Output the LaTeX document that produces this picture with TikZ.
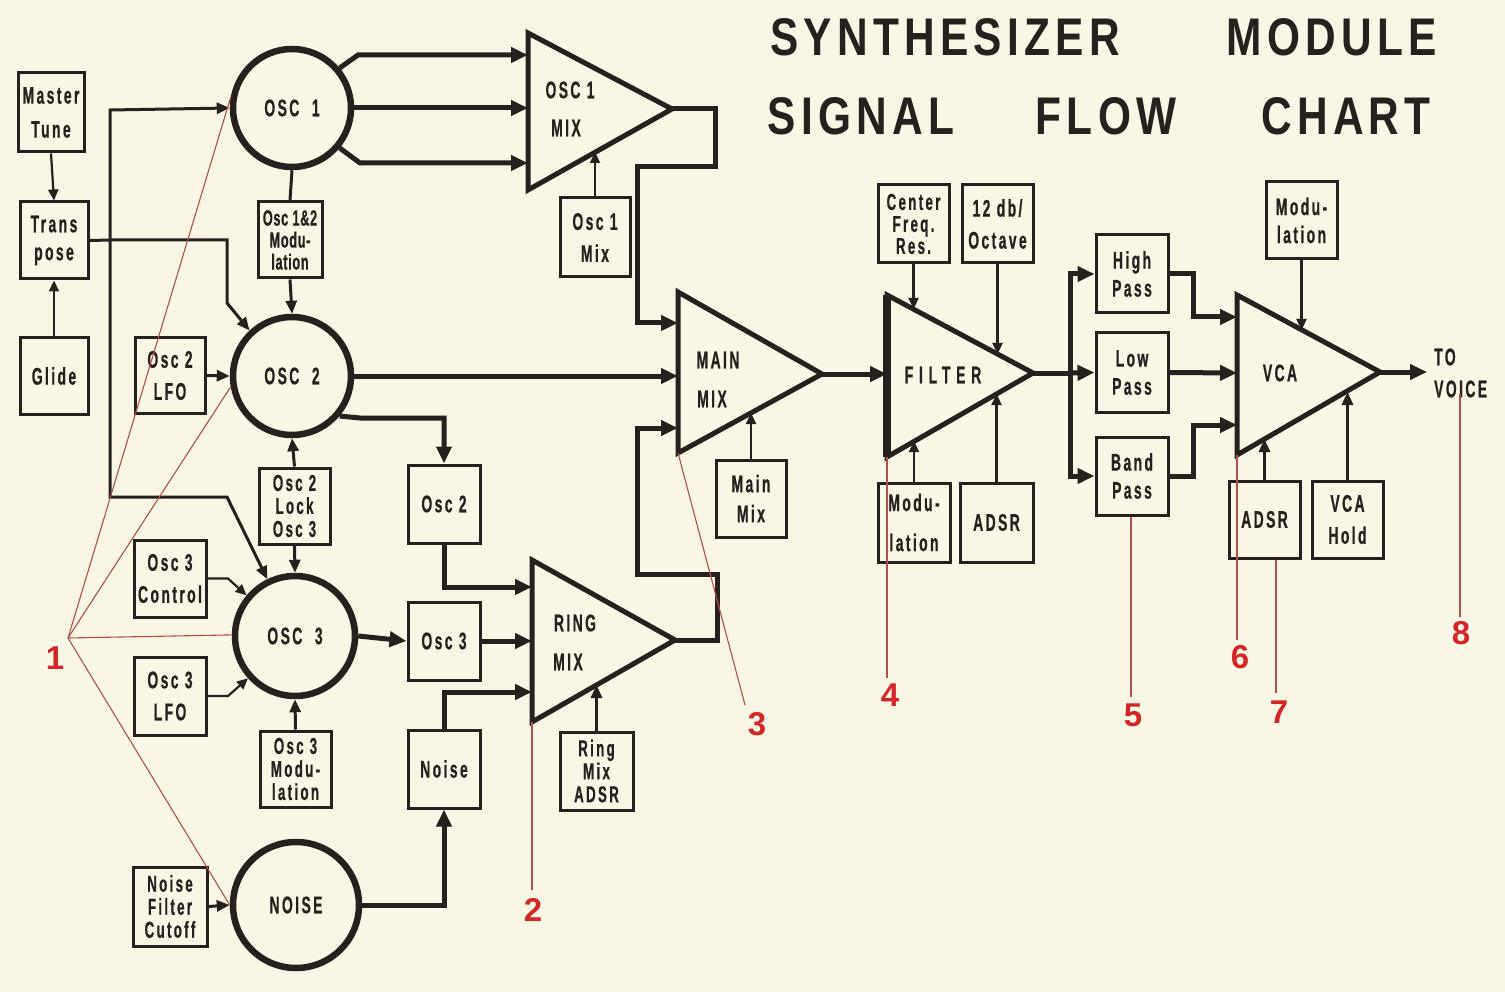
\documentclass[tikz,border=0pt]{standalone}
\usepackage{fontspec}
\usetikzlibrary{arrows.meta}
\newfontfamily\cfont{Liberation Sans Bold}[FakeStretch=0.58,LetterSpace=10,FakeBold=0.6]
\newfontfamily\cfontn{Liberation Sans Bold}[FakeStretch=0.58,LetterSpace=3,FakeBold=0.6]
\newfontfamily\cfontw{Liberation Sans Bold}[FakeStretch=0.58,LetterSpace=24,FakeBold=0.6]
\newfontfamily\tfont{Liberation Sans Bold}[FakeStretch=0.8,LetterSpace=10]
\newfontfamily\rfont{Liberation Sans Bold}
\definecolor{paper}{RGB}{250,246,229}
\definecolor{ink}{RGB}{38,33,30}
\definecolor{redtxt}{RGB}{212,38,38}
\definecolor{redline}{RGB}{175,80,75}
\newcommand\bxfont{\cfont\fontsize{24}{28}\selectfont}
\newcommand\bigfont{\cfont\fontsize{24}{30}\selectfont}
\begin{document}
\begin{tikzpicture}[x=1pt,y=-1pt,
  bx/.style 2 args={draw=ink, line width=3pt, minimum width=#1pt, minimum height=#2pt,
     inner sep=0pt, align=center, font=\bxfont, text=ink},
  circ/.style={circle, draw=ink, line width=6.5pt, minimum size=#1pt, inner sep=0pt,
     font=\bigfont, text=ink},
  tri/.style={draw=ink, line width=5pt, line join=miter},
  tlab/.style={font=\bigfont, text=ink, inner sep=0pt},
  thk/.style={draw=ink, line width=5pt, -{Triangle[length=17pt,width=15pt]}},
  thkl/.style={draw=ink, line width=5pt},
  med/.style={draw=ink, line width=3pt, -{Triangle[length=13pt,width=11pt]}},
  medl/.style={draw=ink, line width=3pt},
  thn/.style={draw=ink, line width=2.2pt, -{Triangle[length=11pt,width=10pt]}},
  titl/.style={font=\tfont\fontsize{53}{60}\selectfont, text=ink, inner sep=0pt},
  rnum/.style={font=\rfont\fontsize{33}{33}\selectfont, text=redtxt, inner sep=0pt},
  rln/.style={draw=redline, line width=1.1pt}
]
\fill[paper] (0,0) rectangle (1505,992);
\useasboundingbox (0,0) rectangle (1505,992);

% ---------- title ----------
\node[titl] (t1) at (945,37) {SYNTHESIZER};
\node[titl] (t2) at (1332,37) {MODULE};
\node[titl] (t3) at (861,116) {SIGNAL};
\node[titl] (t4) at (1106,116) {FLOW};
\node[titl] (t5) at (1346,116) {CHART};

% ---------- left control boxes ----------
\node[bx={66}{79}, font=\cfont\fontsize{24}{34}\selectfont] (mt) at (51,112.5) {Master\\Tune};
\node[bx={68}{77}] (tp) at (54,240.5) {Trans\\pose};
\node[bx={68}{76}] (gl) at (54,376) {Glide};
\node[bx={64}{76}, font=\cfontn\fontsize{22}{22}\selectfont] (m12) at (290,240) {Osc 1\&2\\Modu-\\lation};
\node[bx={70}{75}, font=\cfont\fontsize{24}{32}\selectfont] (l2) at (170,375.5) {Osc 2\\LFO};
\node[bx={71}{76}, font=\cfont\fontsize{23}{23}\selectfont] (lk) at (294.5,506) {Osc 2\\Lock\\Osc 3};
\node[bx={72}{77}, font=\cfont\fontsize{24}{32}\selectfont] (c3) at (170,578.5) {Osc 3\\Control};
\node[bx={72}{78}, font=\cfont\fontsize{24}{32}\selectfont] (l3) at (170,696) {Osc 3\\LFO};
\node[bx={71}{76}, font=\cfont\fontsize{23}{23}\selectfont] (m3) at (295.5,769) {Osc 3\\Modu-\\lation};
\node[bx={74}{79}, font=\cfont\fontsize{23}{23}\selectfont] (nf) at (170,906.5) {Noise\\Filter\\Cutoff};

% ---------- oscillators ----------
\node[circ=118] (o1) at (292,108) {OSC~~1};
\node[circ=118] (o2) at (292,376) {OSC~~2};
\node[circ=120] (o3) at (295,636) {OSC~~3};
\node[circ=126] (nz) at (296,905) {NOISE};

% ---------- middle boxes ----------
\node[bx={70}{79}, font=\cfont\fontsize{24}{32}\selectfont] (o1m) at (595,237.5) {Osc 1\\Mix};
\node[bx={72}{78}] (b2) at (444,504) {Osc 2};
\node[bx={72}{78}] (b3) at (444,641) {Osc 3};
\node[bx={72}{78}] (bn) at (444,769) {Noise};
\node[bx={73}{78}, font=\cfont\fontsize{23}{23}\selectfont] (rma) at (596.5,771) {Ring\\Mix\\ADSR};
\node[bx={70}{77}, font=\cfont\fontsize{24}{30}\selectfont] (mmb) at (751,498.5) {Main\\Mix};

% ---------- filter section boxes ----------
\node[bx={71}{78}, font=\cfont\fontsize{23}{22}\selectfont] (cfr) at (913.5,224) {Center\\Freq.\\Res.};
\node[bx={71}{78}, font=\cfont\fontsize{24}{32}\selectfont] (db) at (997.5,224) {12 db/\\Octave};
\node[bx={72}{79}, font=\cfont\fontsize{24}{40}\selectfont] (fm) at (914,522.5) {Modu-\\lation};
\node[bx={73}{79}] (fa) at (996.5,522.5) {ADSR};
\node[bx={72}{78}] (hp) at (1132,274) {High\\Pass};
\node[bx={72}{79}] (lp) at (1132,372.5) {Low\\Pass};
\node[bx={72}{78}] (bp) at (1132,476) {Band\\Pass};
\node[bx={71}{77}] (vm) at (1301.5,220.5) {Modu-\\lation};
\node[bx={71}{77}] (va) at (1264.5,519.5) {ADSR};
\node[bx={71}{77}, font=\cfont\fontsize{24}{32}\selectfont] (vh) at (1347.5,519.5) {VCA\\Hold};

% ---------- triangles ----------
\coordinate (T1a) at (528,33);  \coordinate (T1b) at (528,190);  \coordinate (T1c) at (672,109);
\coordinate (TMa) at (678,292); \coordinate (TMb) at (678,453);  \coordinate (TMc) at (822,374);
\coordinate (TRa) at (532,560); \coordinate (TRb) at (532,722);  \coordinate (TRc) at (675,640);
\coordinate (TFa) at (887,295); \coordinate (TFb) at (887,457);  \coordinate (TFc) at (1033,373);
\coordinate (TVa) at (1237,295);\coordinate (TVb) at (1237,455); \coordinate (TVc) at (1380,372);
\draw[tri] (T1a) -- (T1b) -- (T1c) -- cycle;
\draw[tri] (TMa) -- (TMb) -- (TMc) -- cycle;
\draw[tri] (TRa) -- (TRb) -- (TRc) -- cycle;
\draw[tri] (TFa) -- (TFb) -- (TFc) -- cycle;
\draw[draw=ink, line width=8pt] (TFa) -- (TFb);
\draw[tri] (TVa) -- (TVb) -- (TVc) -- cycle;

\node[tlab] (l1a) at (570,90) {OSC~1};
\node[tlab] (l1b) at (566,128) {MIX};
\node[tlab] (lma) at (718,360) {MAIN};
\node[tlab] (lmb) at (712,399) {MIX};
\node[tlab] (lra) at (575,623) {RING};
\node[tlab] (lrb) at (568,662) {MIX};
\node[tlab, font=\cfontw\fontsize{24}{30}\selectfont] (lf) at (943,375) {FILTER};
\node[tlab] (lv) at (1280,373) {VCA};
\node[tlab, align=left, anchor=west, font=\cfont\fontsize{24}{32}\selectfont] (voice) at (1434,373) {TO\\VOICE};

% ---------- control connections (left) ----------
\coordinate (j) at (110,240);
\draw[thn] (mt.south) -- (tp.north);
\draw[thn] (gl.north) -- (tp.south);
\draw[medl] (tp.east) -- (j);
\draw[med] (j) -- (227,240) -- (227,303) -- (o2.133);
\draw[med] (j) -- (110,110) -- (o1.west);
\draw[med] (j) -- (110,497) -- (227,497) -- (o3.116);
\draw[medl] (o1.south) -- (m12.north);
\draw[med] (m12.south) -- (o2.north);
\draw[med] (l2.east) -- (o2.west);
\draw[med] (lk.north) -- (o2.south);
\draw[med] (lk.south) -- (o3.north);
\draw[thn] (c3.east) -- (228,578.5) -- (o3.140);
\draw[thn] (l3.east) -- (228,696) -- (o3.222);
\draw[med] (m3.north) -- (o3.south);
\draw[med] (nf.east) -- (nz.west);

% ---------- signal connections ----------
\coordinate (i1a) at (528,55);  \coordinate (i1b) at (528,108); \coordinate (i1c) at (528,163);
\draw[thk] (o1.40) -- (358,55) -- (i1a);
\draw[thk] (o1.east) -- (i1b);
\draw[thk] (o1.-40) -- (360,163) -- (i1c);

\coordinate (ima) at (678,323); \coordinate (imb) at (678,376); \coordinate (imc) at (678,428);
\draw[thk] (T1c) -- (715,109) -- (715,167) -- (637,167) -- (637,323) -- (ima);
\draw[thk] (o2.east) -- (imb);
\draw[thk] (o2.-40) -- (360,418) -- (444,418) -- (b2.north);

\coordinate (ira) at (532,587); \coordinate (irb) at (532,641); \coordinate (irc) at (532,692);
\draw[thk] (b2.south) -- (444,587) -- (ira);
\draw[thk] (o3.east) -- (b3.west);
\draw[thk] (b3.east) -- (irb);
\draw[thk] (bn.north) -- (444,692) -- (irc);
\draw[thk] (nz.east) -- (444,905) -- (bn.south);
\draw[thk] (TRc) -- (717,640) -- (717,574) -- (637,574) -- (637,428) -- (imc);

\coordinate (ifl) at (887,374);
\draw[thk] (TMc) -- (ifl);
\coordinate (bus) at (1070,373);
\draw[thkl] (TFc) -- (bus);
\draw[thk] (bus) -- (lp.west);
\draw[thk] (bus) |- (hp.west);
\draw[thk] (bus) |- (bp.west);

\coordinate (iva) at (1237,317); \coordinate (ivb) at (1237,373); \coordinate (ivc) at (1237,425);
\draw[thk] (hp.east) -- (1193,274) -- (1193,317) -- (iva);
\draw[thk] (lp.east) -- (ivb);
\draw[thk] (bp.east) -- (1193,476) -- (1193,425) -- (ivc);
\coordinate (out) at (1427,372);
\draw[thk] (TVc) -- (out);

% ---------- control inputs to triangles ----------
\coordinate (e1) at (595,152);
\coordinate (e2) at (751,413);
\coordinate (e3) at (596.5,685);
\coordinate (e4) at (913.5,309);
\coordinate (e5) at (997.5,354);
\coordinate (e6) at (914,441);
\coordinate (e7) at (996.5,394);
\coordinate (e8) at (1301.5,330);
\coordinate (e9) at (1264.5,439);
\coordinate (e10) at (1347.5,392);
\draw[thn] (o1m.north) -- (e1);
\draw[thn] (mmb.north) -- (e2);
\draw[med] (rma.north) -- (e3);
\draw[thn] (cfr.south) -- (e4);
\draw[thn] (db.south) -- (e5);
\draw[thn] (fm.north) -- (e6);
\draw[thn] (fa.north) -- (e7);
\draw[thn] (vm.south) -- (e8);
\draw[med] (va.north) -- (e9);
\draw[med] (vh.north) -- (e10);

% ---------- red annotations ----------
\coordinate (v1) at (68,638);
\node[rnum] (n1) at (55,658) {1};
\node[rnum] (n2) at (533,910) {2};
\node[rnum] (n3) at (757,724) {3};
\node[rnum] (n4) at (890,695) {4};
\node[rnum] (n5) at (1133,715) {5};
\node[rnum] (n6) at (1240,657) {6};
\node[rnum] (n7) at (1279,712) {7};
\node[rnum] (n8) at (1461,633) {8};
\draw[rln] (v1) -- (o1.180-10);
\draw[rln] (v1) -- (o2.180+10);
\draw[rln] (v1) -- (o3.180-1);
\draw[rln] (v1) -- (nz.west);
\coordinate (a2) at (532,890);
\coordinate (a3) at (745,705);
\coordinate (a4) at (887,678);
\coordinate (a5) at (1131,697);
\coordinate (a6) at (1237,640);
\coordinate (a7) at (1276,693);
\coordinate (a8) at (1460,617);
\coordinate (s8) at (1460,394);
\draw[rln] (TRb) -- (a2);
\draw[rln] (TMb) -- (a3);
\draw[rln] (TFb) -- (a4);
\draw[rln] (bp.south -| a5) -- (a5);
\draw[rln] (TVb) -- (a6);
\draw[rln] (va.south -| a7) -- (a7);
\draw[rln] (s8) -- (a8);
\end{tikzpicture}
\end{document}
